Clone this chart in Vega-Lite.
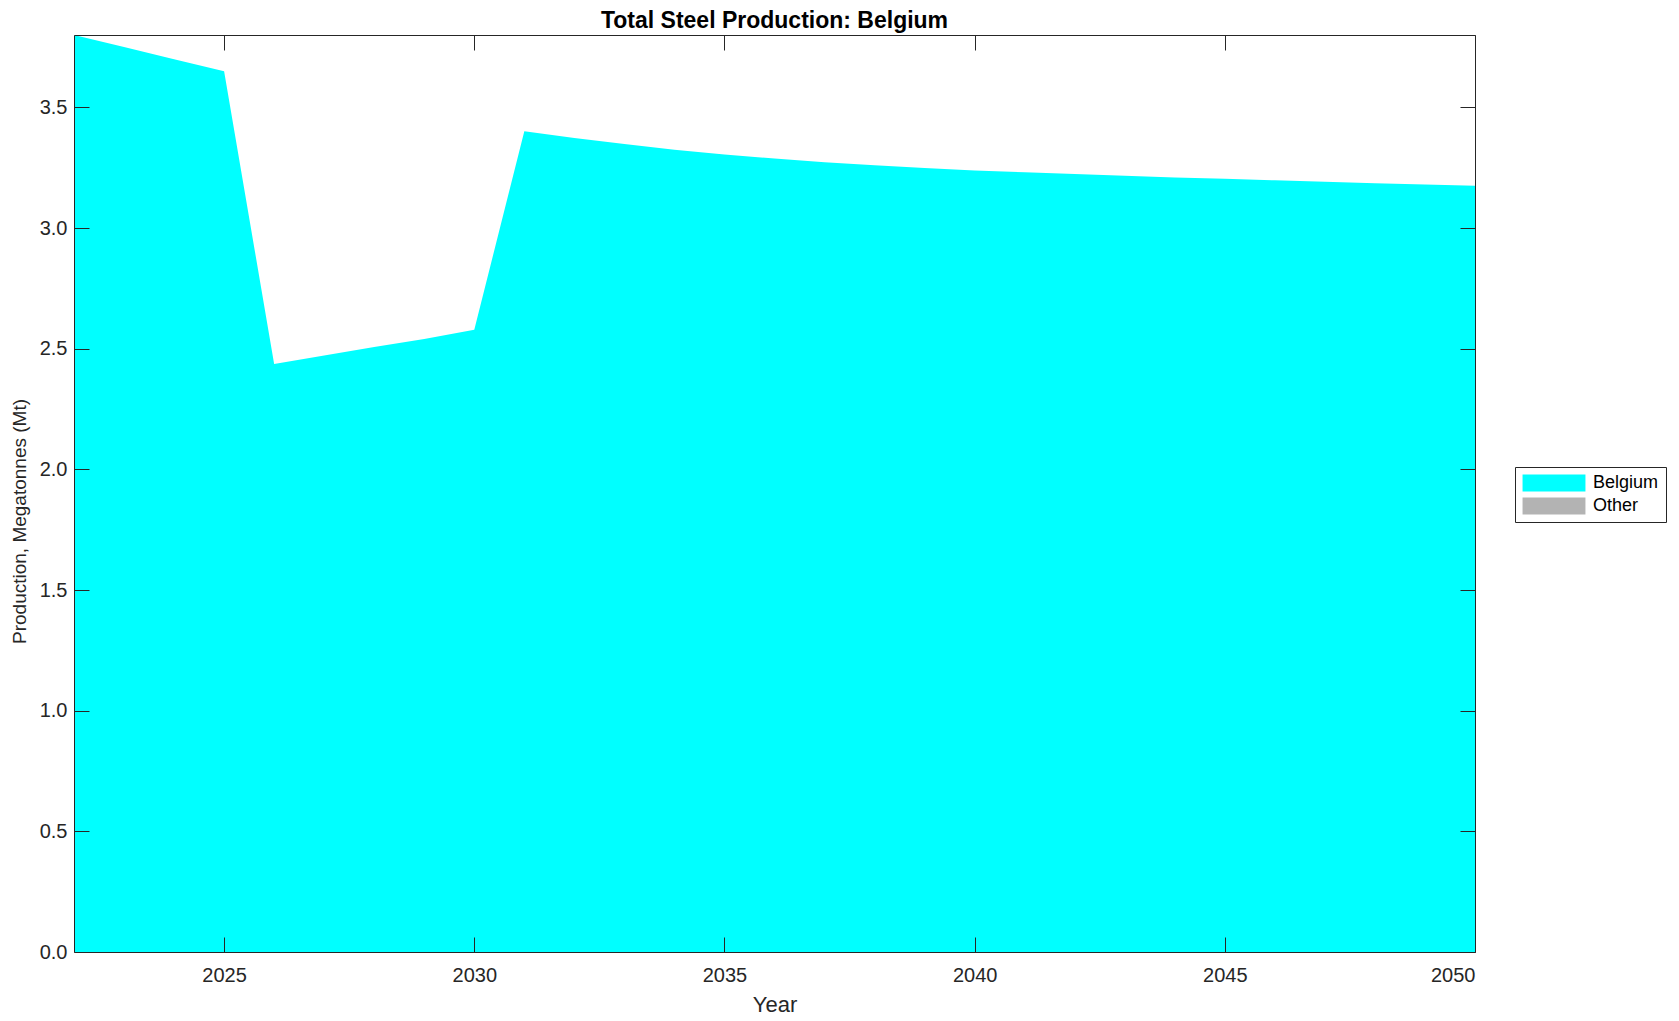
{
  "$schema": "https://vega.github.io/schema/vega-lite/v6.json",
  "autosize": {"type": "none"},
  "padding": {"left": 74, "top": 35, "right": 204, "bottom": 69},
  "width": 1401,
  "height": 917,
  "background": "white",
  "config": {
    "font": "Liberation Sans",
    "view": {"stroke": null},
    "axis": {"domain": true, "domainColor": "#262626", "domainWidth": 1, "grid": false, "tickColor": "#262626", "labelColor": "#262626", "titleColor": "#262626", "labelFontSize": 20, "titleFontWeight": "normal", "tickSize": -15, "tickWidth": 1}
  },
  "title": {"text": "Total Steel Production: Belgium", "fontSize": 23, "fontWeight": "bold", "color": "black", "anchor": "middle", "offset": -1},
  "data": {"values": [
    {"Year": 2022, "Series": "Belgium", "Mt": 3.8, "o": 1},
    {"Year": 2023, "Series": "Belgium", "Mt": 3.75, "o": 1},
    {"Year": 2024, "Series": "Belgium", "Mt": 3.70, "o": 1},
    {"Year": 2025, "Series": "Belgium", "Mt": 3.65, "o": 1},
    {"Year": 2026, "Series": "Belgium", "Mt": 2.437, "o": 1},
    {"Year": 2027, "Series": "Belgium", "Mt": 2.472, "o": 1},
    {"Year": 2028, "Series": "Belgium", "Mt": 2.507, "o": 1},
    {"Year": 2029, "Series": "Belgium", "Mt": 2.54, "o": 1},
    {"Year": 2030, "Series": "Belgium", "Mt": 2.579, "o": 1},
    {"Year": 2031, "Series": "Belgium", "Mt": 3.401, "o": 1},
    {"Year": 2032, "Series": "Belgium", "Mt": 3.373, "o": 1},
    {"Year": 2033, "Series": "Belgium", "Mt": 3.348, "o": 1},
    {"Year": 2034, "Series": "Belgium", "Mt": 3.325, "o": 1},
    {"Year": 2035, "Series": "Belgium", "Mt": 3.305, "o": 1},
    {"Year": 2036, "Series": "Belgium", "Mt": 3.288, "o": 1},
    {"Year": 2037, "Series": "Belgium", "Mt": 3.273, "o": 1},
    {"Year": 2038, "Series": "Belgium", "Mt": 3.26, "o": 1},
    {"Year": 2039, "Series": "Belgium", "Mt": 3.249, "o": 1},
    {"Year": 2040, "Series": "Belgium", "Mt": 3.239, "o": 1},
    {"Year": 2041, "Series": "Belgium", "Mt": 3.231, "o": 1},
    {"Year": 2042, "Series": "Belgium", "Mt": 3.224, "o": 1},
    {"Year": 2043, "Series": "Belgium", "Mt": 3.217, "o": 1},
    {"Year": 2044, "Series": "Belgium", "Mt": 3.21, "o": 1},
    {"Year": 2045, "Series": "Belgium", "Mt": 3.204, "o": 1},
    {"Year": 2046, "Series": "Belgium", "Mt": 3.198, "o": 1},
    {"Year": 2047, "Series": "Belgium", "Mt": 3.192, "o": 1},
    {"Year": 2048, "Series": "Belgium", "Mt": 3.186, "o": 1},
    {"Year": 2049, "Series": "Belgium", "Mt": 3.18, "o": 1},
    {"Year": 2050, "Series": "Belgium", "Mt": 3.175, "o": 1},
    {"Year": 2022, "Series": "Other", "Mt": 0, "o": 2},
    {"Year": 2025, "Series": "Other", "Mt": 0, "o": 2},
    {"Year": 2026, "Series": "Other", "Mt": 0, "o": 2},
    {"Year": 2030, "Series": "Other", "Mt": 0, "o": 2},
    {"Year": 2031, "Series": "Other", "Mt": 0, "o": 2},
    {"Year": 2050, "Series": "Other", "Mt": 0, "o": 2}
  ]},
  "layer": [
    {
      "mark": {"type": "area", "interpolate": "linear", "clip": true},
      "encoding": {
        "x": {"field": "Year", "type": "quantitative", "scale": {"domain": [2022, 2050], "nice": false, "zero": false},
              "axis": {"orient": "bottom", "zindex": 1, "values": [2025, 2030, 2035, 2040, 2045, 2050], "format": "d", "title": "Year", "titleFontSize": 22, "labelPadding": 28, "titlePadding": 9}},
        "y": {"field": "Mt", "type": "quantitative", "stack": "zero", "scale": {"domain": [0, 3.8], "nice": false},
              "axis": {"orient": "left", "zindex": 1, "values": [0, 0.5, 1, 1.5, 2, 2.5, 3, 3.5], "format": ".1f", "title": "Production, Megatonnes (Mt)", "titleFontSize": 19, "labelPadding": 22, "titlePadding": 10, "titleY": 486}},
        "color": {"field": "Series", "type": "nominal",
                  "scale": {"domain": ["Belgium", "Other"], "range": ["#00ffff", "#b3b3b3"]},
                  "legend": {"title": null, "orient": "none", "legendX": 1441, "legendY": 432,
                             "symbolType": "M-3.7,-1H3.7V1H-3.7Z", "symbolSize": 289, "symbolStrokeWidth": 0, "symbolOffset": 23,
                             "labelFontSize": 18, "labelColor": "black", "labelOffset": 30,
                             "strokeColor": "#262626", "fillColor": "white", "padding": 7, "rowPadding": 5, "offset": 0}},
        "order": {"field": "o", "type": "quantitative"}
      }
    },
    {
      "mark": {"type": "point", "opacity": 0},
      "encoding": {
        "x": {"field": "Year", "type": "quantitative", "axis": {"orient": "top", "zindex": 1, "values": [2025, 2030, 2035, 2040, 2045, 2050], "labels": false, "title": null}},
        "y": {"field": "Mt", "type": "quantitative", "axis": {"orient": "right", "zindex": 1, "values": [0, 0.5, 1, 1.5, 2, 2.5, 3, 3.5], "labels": false, "title": null}}
      }
    }
  ]
}
